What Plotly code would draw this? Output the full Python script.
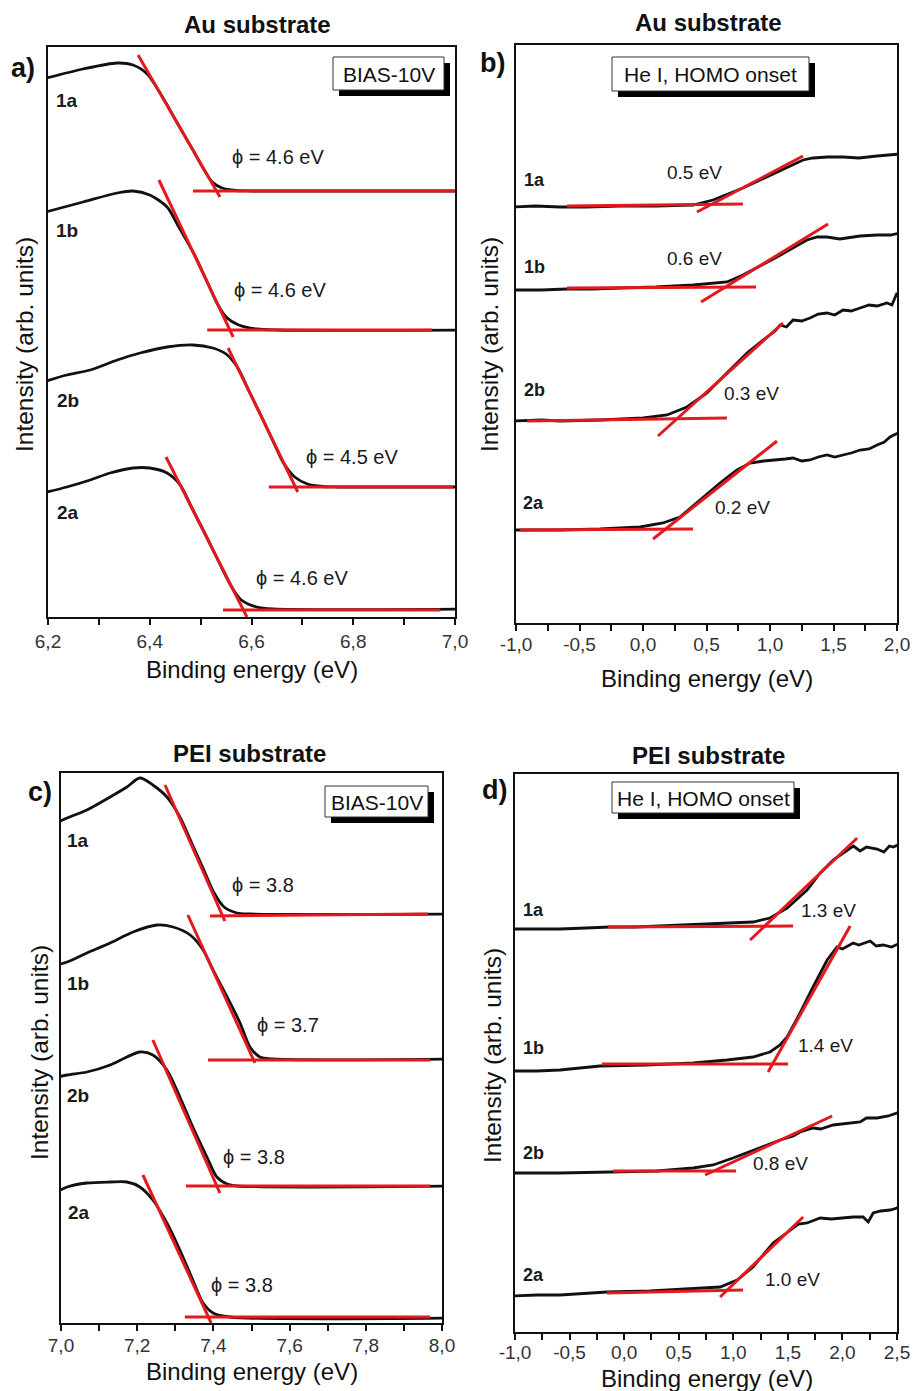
import plotly.graph_objects as go

W, H = 914, 1391
FONT = "Liberation Sans, Arial, sans-serif"
RED = "rgb(226,26,30)"
BLACK = "#111111"

# ---------------- Panel a (Au substrate, BIAS -10V) ----------------
a_1a_x = [6.190, 6.269, 6.336, 6.367, 6.395, 6.425, 6.454, 6.485, 6.507, 6.523, 6.542, 6.570, 6.600, 7.033]
a_1a_y = [538, 548, 554, 552, 543, 520, 494, 467, 447, 435, 429, 426.5, 426, 426]
a_1b_x = [6.188, 6.269, 6.336, 6.367, 6.400, 6.434, 6.456, 6.488, 6.513, 6.532, 6.550, 6.575, 6.610, 6.650, 7.033]
a_1b_y = [404, 415, 424, 426, 422, 410, 391, 362, 335, 314, 300, 292, 288, 287, 287]
a_2b_x = [6.190, 6.237, 6.283, 6.336, 6.381, 6.434, 6.485, 6.524, 6.550, 6.572, 6.597, 6.623, 6.644, 6.663, 6.685, 6.710, 6.740, 6.770, 7.033]
a_2b_y = [235, 242, 247, 257, 264, 270, 272, 269, 263, 250, 224, 197, 174, 154, 140, 133, 130.5, 130, 130]
a_2a_x = [6.190, 6.237, 6.283, 6.322, 6.367, 6.400, 6.434, 6.460, 6.482, 6.508, 6.534, 6.561, 6.580, 6.610, 6.642, 7.033]
a_2a_y = [124, 130, 137, 144, 149, 149, 144, 132, 110, 84, 57, 30, 17, 10, 8, 8]
a_tan_x = [[6.377, 6.538], [6.418, 6.564], [6.554, 6.691], [6.432, 6.591]]
a_tan_y = [[562, 420], [437, 280], [269, 125], [160, 0]]
a_base_x = [[6.485, 7.0], [6.513, 6.955], [6.634, 6.996], [6.544, 6.971]]
a_base_y = [[426, 426], [287, 287], [130, 130], [7, 7]]
a_phi_text = ["ϕ = 4.6 eV", "ϕ = 4.6 eV", "ϕ = 4.5 eV", "ϕ = 4.6 eV"]
a_phi_x = [6.652, 6.656, 6.798, 6.699]
a_phi_y = [460, 327, 160, 39]
a_lab_text = ["1a", "1b", "2b", "2a"]
a_lab_x = [6.237, 6.237, 6.239, 6.239]
a_lab_y = [517, 387, 217, 105]

# ---------------- Panel b (Au substrate, He I HOMO onset) ----------------
b_1a_x = [-1.024, -0.85, -0.654, -0.45, -0.181, 0.1, 0.394, 0.551, 0.787, 1.055, 1.26, 1.339, 1.45, 1.575, 1.7, 1.843, 1.95, 2.024]
b_1a_y = [416, 417, 416, 416, 417, 417, 418, 423, 435, 451, 463, 465, 466, 466, 465, 467, 468, 469]
b_1b_x = [-1.024, -0.8, -0.598, -0.4, -0.181, 0.1, 0.394, 0.661, 0.787, 1.055, 1.291, 1.37, 1.449, 1.55, 1.709, 1.843, 1.95, 2.024]
b_1b_y = [333, 333, 334, 334, 335, 336, 338, 341, 348, 366, 383, 386, 386, 384, 387, 388, 388, 390]
b_2b_x = [-1.024, -0.8, -0.654, -0.339, 0.0, 0.189, 0.346, 0.504, 0.661, 0.819, 0.976, 1.04, 1.079, 1.13, 1.181, 1.25, 1.315, 1.38, 1.449, 1.51, 1.575, 1.64, 1.709, 1.78, 1.843, 1.921, 1.96, 1.984, 2.0, 2.024]
b_2b_y = [202, 203, 202, 203, 205, 208, 216, 230, 250, 270, 286, 292, 298, 296, 303, 302, 305, 309, 310, 308, 313, 312, 315, 318, 317, 320, 318, 326, 330, 321]
b_2a_x = [-1.024, -0.8, -0.654, -0.339, -0.024, 0.157, 0.291, 0.449, 0.606, 0.740, 0.843, 0.95, 1.055, 1.12, 1.181, 1.25, 1.315, 1.38, 1.449, 1.51, 1.575, 1.64, 1.709, 1.78, 1.843, 1.9, 1.945, 2.024]
b_2a_y = [93, 93, 93, 94, 96, 100, 106, 123, 140, 153, 160, 162, 163, 164, 165, 162, 163, 166, 168, 166, 168, 170, 173, 174, 178, 181, 186, 191]
b_tan_x = [[0.425, 1.260], [0.457, 1.457], [0.118, 1.102], [0.079, 1.055]]
b_tan_y = [[411, 467], [321, 399], [187, 300], [84, 182]]
b_base_x = [[-0.598, 0.787], [-0.598, 0.890], [-0.913, 0.661], [-0.969, 0.394]]
b_base_y = [[417, 419], [335, 336], [202, 205], [93, 94]]
b_ev_text = ["0.5 eV", "0.6 eV", "0.3 eV", "0.2 eV"]
b_ev_x = [0.409, 0.409, 0.858, 0.787]
b_ev_y = [451, 365, 230, 116]
b_lab_text = ["1a", "1b", "2b", "2a"]
b_lab_x = [-0.858, -0.858, -0.858, -0.866]
b_lab_y = [443, 356, 233, 120]

# ---------------- Panel c (PEI substrate, BIAS -10V) ----------------
c_1a_x = [6.966, 7.016, 7.068, 7.129, 7.173, 7.207, 7.241, 7.278, 7.312, 7.343, 7.375, 7.402, 7.428, 7.462, 7.496, 8.026]
c_1a_y = [496, 505, 513, 526, 536, 545, 538, 526, 506, 480, 453, 430, 416, 410, 409, 409]
c_1b_x = [6.966, 7.016, 7.068, 7.129, 7.189, 7.252, 7.294, 7.339, 7.373, 7.399, 7.436, 7.470, 7.496, 7.522, 7.556, 8.026]
c_1b_y = [356, 361, 370, 380, 391, 398, 396, 388, 373, 353, 326, 300, 276, 266, 264, 264]
c_2b_x = [6.966, 7.016, 7.068, 7.129, 7.173, 7.207, 7.241, 7.278, 7.312, 7.346, 7.383, 7.409, 7.436, 7.462, 8.026]
c_2b_y = [244, 248, 251, 258, 266, 271, 268, 253, 226, 196, 166, 146, 139, 137, 137]
c_2a_x = [6.966, 7.016, 7.068, 7.129, 7.173, 7.207, 7.241, 7.278, 7.312, 7.346, 7.373, 7.399, 7.444, 8.026]
c_2a_y = [126, 136, 140, 141, 141, 136, 123, 100, 73, 43, 20, 10, 6, 5]
c_tan_x = [[7.273, 7.430], [7.333, 7.509], [7.241, 7.417], [7.215, 7.394]]
c_tan_y = [[538, 402], [408, 260], [283, 130], [148, 0]]
c_base_x = [[7.391, 7.963], [7.386, 7.969], [7.328, 7.969], [7.325, 7.969]]
c_base_y = [[407, 409], [263, 263], [137, 137], [6, 6]]
c_phi_text = ["ϕ = 3.8", "ϕ = 3.7", "ϕ = 3.8", "ϕ = 3.8"]
c_phi_x = [7.530, 7.596, 7.507, 7.475]
c_phi_y = [438, 298, 166, 38]
c_lab_text = ["1a", "1b", "2b", "2a"]
c_lab_x = [7.045, 7.045, 7.045, 7.047]
c_lab_y = [483, 340, 228, 111]

# ---------------- Panel d (PEI substrate, He I HOMO onset) ----------------
d_1a_x = [-1.018, -0.8, -0.588, -0.35, -0.129, 0.1, 0.329, 0.6, 0.943, 1.181, 1.337, 1.493, 1.676, 1.796, 1.915, 2.043, 2.1, 2.162, 2.22, 2.318, 2.38, 2.43, 2.465, 2.529]
d_1a_y = [403, 403, 403, 404, 405, 405, 406, 407, 409, 410, 414, 424, 442, 459, 472, 482, 486, 481, 485, 483, 480, 486, 485, 488]
d_1b_x = [-1.018, -0.8, -0.588, -0.221, 0.2, 0.632, 0.943, 1.181, 1.337, 1.429, 1.493, 1.612, 1.731, 1.860, 1.951, 2.0, 2.098, 2.15, 2.254, 2.31, 2.373, 2.45, 2.529]
d_1b_y = [261, 261, 262, 266, 267, 269, 272, 275, 280, 287, 295, 319, 345, 372, 385, 383, 389, 387, 391, 386, 387, 385, 389]
d_2b_x = [-1.018, -0.8, -0.588, -0.129, 0.3, 0.632, 0.815, 0.998, 1.246, 1.429, 1.55, 1.612, 1.731, 1.8, 1.915, 2.0, 2.162, 2.22, 2.318, 2.42, 2.529]
d_2b_y = [159, 159, 159, 160, 161, 164, 167, 174, 184, 192, 196, 200, 204, 203, 207, 208, 210, 214, 214, 216, 220]
d_2a_x = [-1.018, -0.8, -0.588, -0.157, 0.237, 0.632, 0.879, 1.035, 1.181, 1.365, 1.521, 1.6, 1.676, 1.796, 1.9, 2.006, 2.1, 2.190, 2.236, 2.282, 2.35, 2.437, 2.5, 2.529]
d_2a_y = [36, 37, 37, 40, 41, 43, 45, 52, 65, 89, 102, 108, 109, 114, 113, 114, 115, 115, 110, 119, 121, 122, 124, 128]
d_tan_x = [[1.154, 2.135], [1.319, 2.071], [0.742, 1.906], [0.879, 1.640]]
d_tan_y = [[392, 494], [260, 406], [157, 216], [35, 115]]
d_base_x = [[-0.148, 1.548], [-0.203, 1.502], [-0.102, 1.026], [-0.157, 1.090]]
d_base_y = [[405, 406], [268, 268], [161, 161], [39, 42]]
d_ev_text = ["1.3 eV", "1.4 eV", "0.8 eV", "1.0 eV"]
d_ev_x = [1.869, 1.841, 1.429, 1.539]
d_ev_y = [422, 287, 169, 53]
d_lab_text = ["1a", "1b", "2b", "2a"]
d_lab_x = [-0.835, -0.835, -0.835, -0.835]
d_lab_y = [422, 284, 179, 57]

# tick labels
a_ticks = [6.2, 6.4, 6.6, 6.8, 7.0]
a_ticktext = ["6,2", "6,4", "6,6", "6,8", "7,0"]
a_minor = [6.3, 6.5, 6.7, 6.9]
b_ticks = [-1.0, -0.5, 0.0, 0.5, 1.0, 1.5, 2.0]
b_ticktext = ["-1,0", "-0,5", "0,0", "0,5", "1,0", "1,5", "2,0"]
b_minor = [-0.75, -0.25, 0.25, 0.75, 1.25, 1.75]
c_ticks = [7.0, 7.2, 7.4, 7.6, 7.8, 8.0]
c_ticktext = ["7,0", "7,2", "7,4", "7,6", "7,8", "8,0"]
c_minor = [7.1, 7.3, 7.5, 7.7, 7.9]
d_ticks = [-1.0, -0.5, 0.0, 0.5, 1.0, 1.5, 2.0, 2.5]
d_ticktext = ["-1,0", "-0,5", "0,0", "0,5", "1,0", "1,5", "2,0", "2,5"]
d_minor = [-0.75, -0.25, 0.25, 0.75, 1.25, 1.75, 2.25]


def PX(x):
    return x / W


def PY(y):
    return 1 - y / H


fig = go.Figure()

panels = [
    ("x", "y", [(a_1a_x, a_1a_y), (a_1b_x, a_1b_y), (a_2b_x, a_2b_y), (a_2a_x, a_2a_y)],
     a_tan_x, a_tan_y, a_base_x, a_base_y, "spline"),
    ("x2", "y2", [(b_1a_x, b_1a_y), (b_1b_x, b_1b_y), (b_2b_x, b_2b_y), (b_2a_x, b_2a_y)],
     b_tan_x, b_tan_y, b_base_x, b_base_y, "linear"),
    ("x3", "y3", [(c_1a_x, c_1a_y), (c_1b_x, c_1b_y), (c_2b_x, c_2b_y), (c_2a_x, c_2a_y)],
     c_tan_x, c_tan_y, c_base_x, c_base_y, "spline"),
    ("x4", "y4", [(d_1a_x, d_1a_y), (d_1b_x, d_1b_y), (d_2b_x, d_2b_y), (d_2a_x, d_2a_y)],
     d_tan_x, d_tan_y, d_base_x, d_base_y, "linear"),
]

for xa, ya, curves, tx, ty, bx, by, shape in panels:
    for cx, cy in curves:
        fig.add_trace(go.Scatter(x=cx, y=cy, xaxis=xa, yaxis=ya, mode="lines",
                                 line=dict(color=BLACK, width=2.8, shape=shape, smoothing=0.8),
                                 cliponaxis=False, showlegend=False, hoverinfo="skip"))
    for i in range(4):
        fig.add_trace(go.Scatter(x=bx[i], y=by[i], xaxis=xa, yaxis=ya, mode="lines",
                                 line=dict(color=RED, width=3), cliponaxis=False,
                                 showlegend=False, hoverinfo="skip"))
        fig.add_trace(go.Scatter(x=tx[i], y=ty[i], xaxis=xa, yaxis=ya, mode="lines",
                                 line=dict(color=RED, width=3), cliponaxis=False,
                                 showlegend=False, hoverinfo="skip"))

annotations = []


def add_texts(texts, xs, ys, xref, yref, size, bold=False):
    for t, x, y in zip(texts, xs, ys):
        annotations.append(dict(text=("<b>%s</b>" % t) if bold else t, x=x, y=y,
                                xref=xref, yref=yref, showarrow=False,
                                xanchor="center", yanchor="middle",
                                font=dict(size=size, color="#1a1a1a", family=FONT)))


add_texts(a_phi_text, a_phi_x, a_phi_y, "x", "y", 20)
add_texts(a_lab_text, a_lab_x, a_lab_y, "x", "y", 19, True)
add_texts(b_ev_text, b_ev_x, b_ev_y, "x2", "y2", 19)
add_texts(b_lab_text, b_lab_x, b_lab_y, "x2", "y2", 18, True)
add_texts(c_phi_text, c_phi_x, c_phi_y, "x3", "y3", 20)
add_texts(c_lab_text, c_lab_x, c_lab_y, "x3", "y3", 19, True)
add_texts(d_ev_text, d_ev_x, d_ev_y, "x4", "y4", 19)
add_texts(d_lab_text, d_lab_x, d_lab_y, "x4", "y4", 18, True)


def paper_text(t, x, y, size, bold=False, angle=0):
    annotations.append(dict(text=("<b>%s</b>" % t) if bold else t, x=PX(x), y=PY(y),
                            xref="paper", yref="paper", showarrow=False,
                            xanchor="center", yanchor="middle", textangle=angle,
                            font=dict(size=size, color="#111111", family=FONT)))


# titles
paper_text("Au substrate", 257, 25, 24, True)
paper_text("Au substrate", 708, 23, 24, True)
paper_text("PEI substrate", 250, 753, 24, True)
paper_text("PEI substrate", 708, 755, 24, True)
# panel letters
paper_text("a)", 23, 68, 27, True)
paper_text("b)", 492, 63, 27, True)
paper_text("c)", 40, 792, 27, True)
paper_text("d)", 494, 790, 27, True)
# axis titles
paper_text("Binding energy (eV)", 252, 670, 24)
paper_text("Binding energy (eV)", 707, 678, 24)
paper_text("Binding energy (eV)", 252, 1371, 24)
paper_text("Binding energy (eV)", 707, 1378, 24)
paper_text("Intensity (arb. units)", 24, 345, 24.5, angle=-90)
paper_text("Intensity (arb. units)", 489, 345, 24.5, angle=-90)
paper_text("Intensity (arb. units)", 39, 1053, 24.5, angle=-90)
paper_text("Intensity (arb. units)", 492, 1056, 24.5, angle=-90)

# legend-like boxes with shadow
boxes = [
    ("BIAS-10V", 333, 444, 57, 90),
    ("He I, HOMO onset", 612, 809, 57, 91),
    ("BIAS-10V", 325, 428, 786, 817),
    ("He I, HOMO onset", 612, 794, 782, 813),
]
shapes = []
for t, x0, x1, y0, y1 in boxes:
    shapes.append(dict(type="rect", xref="paper", yref="paper", layer="above",
                       x0=PX(x0 + 6), x1=PX(x1 + 6), y0=PY(y0 + 6), y1=PY(y1 + 6),
                       fillcolor="black", line=dict(width=0)))
    shapes.append(dict(type="rect", xref="paper", yref="paper", layer="above",
                       x0=PX(x0), x1=PX(x1), y0=PY(y0), y1=PY(y1),
                       fillcolor="white", line=dict(color="#333333", width=1)))
    paper_text(t, (x0 + x1) / 2, (y0 + y1) / 2 + 1, 21)


def xaxis(dom, rng, ticks, ticktext, minor, anchor, standoff):
    return dict(domain=dom, range=rng, anchor=anchor, tickmode="array", tickvals=ticks,
                ticktext=ticktext, ticks="outside", ticklen=6, tickwidth=1.5,
                tickcolor="#111", showline=True, linecolor="#111", linewidth=1.5,
                mirror=True, showgrid=False, zeroline=False, automargin=False,
                ticklabelstandoff=standoff,
                tickfont=dict(size=19, color="#333", family=FONT),
                minor=dict(tickmode="array", tickvals=minor, ticks="outside",
                           ticklen=6, tickwidth=1.5, tickcolor="#111", showgrid=False))


def yaxis(dom, rng, anchor):
    return dict(domain=dom, range=rng, anchor=anchor, showticklabels=False, ticks="",
                showline=True, linecolor="#111", linewidth=1.5, mirror=True,
                showgrid=False, zeroline=False, automargin=False)


fig.update_layout(
    width=W, height=H, margin=dict(l=0, r=0, t=0, b=0, pad=0, autoexpand=False),
    paper_bgcolor="white", plot_bgcolor="white", showlegend=False,
    font=dict(family=FONT, color="#111"),
    xaxis=xaxis([PX(48), PX(455)], [6.2, 7.0], a_ticks, a_ticktext, a_minor, "y", 0),
    yaxis=yaxis([PY(617), PY(47)], [0, 570], "x"),
    xaxis2=xaxis([PX(516), PX(897)], [-1.0, 2.0], b_ticks, b_ticktext, b_minor, "y2", -3),
    yaxis2=yaxis([PY(623), PY(45)], [0, 578], "x2"),
    xaxis3=xaxis([PX(61), PX(442)], [7.0, 8.0], c_ticks, c_ticktext, c_minor, "y3", -2),
    yaxis3=yaxis([PY(1323), PY(773)], [0, 550], "x3"),
    xaxis4=xaxis([PX(515), PX(897)], [-1.0, 2.5], d_ticks, d_ticktext, d_minor, "y4", -4),
    yaxis4=yaxis([PY(1332), PY(774)], [0, 558], "x4"),
    annotations=annotations,
    shapes=shapes,
)

fig.write_html("out.html", config={"displayModeBar": False},
               post_script="document.body.style.margin='0px';")
